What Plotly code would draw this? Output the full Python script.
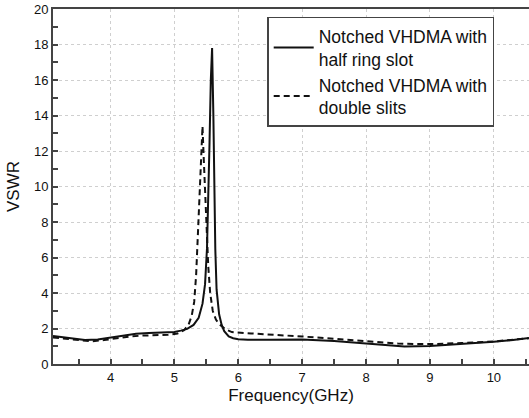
import plotly.graph_objects as go

# Data
freq_ring = [3.1, 3.3, 3.5, 3.6, 3.8, 4.0, 4.2, 4.4, 4.6, 4.8, 5.0, 5.1, 5.2, 5.3, 5.38, 5.44, 5.48,
             5.51, 5.53, 5.55, 5.57, 5.59, 5.61, 5.62, 5.64, 5.66, 5.7, 5.74, 5.78, 5.85, 5.92, 6.0,
             6.15, 6.5, 7.0, 7.5, 8.0, 8.3, 8.6, 9.0, 9.5, 10.0, 10.3, 10.55]
vswr_ring = [1.58, 1.48, 1.38, 1.35, 1.38, 1.5, 1.62, 1.7, 1.74, 1.78, 1.8, 1.88, 1.98, 2.2, 2.6, 3.4, 4.5,
             6.5, 9.0, 12.5, 16.0, 17.8, 14.0, 10.0, 6.5, 4.2, 2.8, 2.2, 1.85, 1.55, 1.45, 1.4,
             1.36, 1.37, 1.38, 1.3, 1.17, 1.08, 0.98, 1.02, 1.12, 1.25, 1.35, 1.47]

freq_slits = [3.1, 3.3, 3.5, 3.7, 3.9, 4.1, 4.3, 4.5, 4.7, 4.9, 5.05, 5.15, 5.22, 5.27, 5.31, 5.34,
              5.37, 5.4, 5.42, 5.44, 5.46, 5.48, 5.5, 5.53, 5.56, 5.6, 5.65, 5.7, 5.8, 5.9, 6.2, 6.6,
              7.0, 7.5, 8.0, 8.5, 8.8, 9.0, 9.5, 10.0, 10.55]
vswr_slits = [1.5, 1.42, 1.32, 1.28, 1.35, 1.45, 1.55, 1.6, 1.63, 1.65, 1.72, 1.9, 2.2, 2.7, 3.5, 5.0,
              7.5, 10.5, 12.5, 13.4, 11.5, 9.5, 8.0, 5.5, 4.0, 3.0, 2.5, 2.25, 1.95, 1.8, 1.72, 1.65,
              1.55, 1.42, 1.28, 1.15, 1.12, 1.12, 1.18, 1.27, 1.45]

x_ticks = [4, 5, 6, 7, 8, 9, 10]
y_ticks = [0, 2, 4, 6, 8, 10, 12, 14, 16, 18, 20]

fig = go.Figure()
fig.add_trace(go.Scatter(x=freq_ring, y=vswr_ring, mode="lines",
                         name="Notched VHDMA with<br>half ring slot",
                         line=dict(color="#111111", width=2)))
fig.add_trace(go.Scatter(x=freq_slits, y=vswr_slits, mode="lines",
                         name="Notched VHDMA with<br>double slits",
                         line=dict(color="#111111", width=2, dash="6px,4px")))

axis_common = dict(showline=True, linecolor="#444444", linewidth=2, mirror=True,
                   ticks="inside", tickcolor="#444444", tickwidth=1.5, ticklen=5,
                   showgrid=True, gridcolor="#cfcfcf", griddash="dot", gridwidth=1,
                   zeroline=False, automargin=False,
                   tickfont=dict(family="Arial", size=13, color="#111111"))

fig.update_xaxes(range=[3.1, 10.55], tickvals=x_ticks,
                 minor=dict(dtick=0.5, ticks="inside", ticklen=5, tickcolor="#444444", showgrid=False),
                 title=dict(text="Frequency(GHz)", font=dict(family="Arial", size=17, color="#111111"),
                            standoff=6),
                 **axis_common)
fig.update_yaxes(range=[0, 20], tickvals=y_ticks,
                 minor=dict(dtick=1, ticks="inside", ticklen=5, tickcolor="#444444", showgrid=False),
                 title=dict(text="VSWR", font=dict(family="Arial", size=17, color="#111111"),
                            standoff=10),
                 **axis_common)

fig.update_layout(
    width=529, height=418,
    margin=dict(l=53, r=0, t=9, b=54),
    plot_bgcolor="white", paper_bgcolor="white",
    showlegend=True,
    legend=dict(x=0.45, y=0.978, xanchor="left", yanchor="top",
                bgcolor="white", bordercolor="#444444", borderwidth=1.5,
                font=dict(family="Arial", size=17.5, color="#111111"),
                tracegroupgap=0, itemwidth=40),
)

fig.write_html("out.html", config={"displayModeBar": False},
               post_script="document.body.style.margin='0';")
